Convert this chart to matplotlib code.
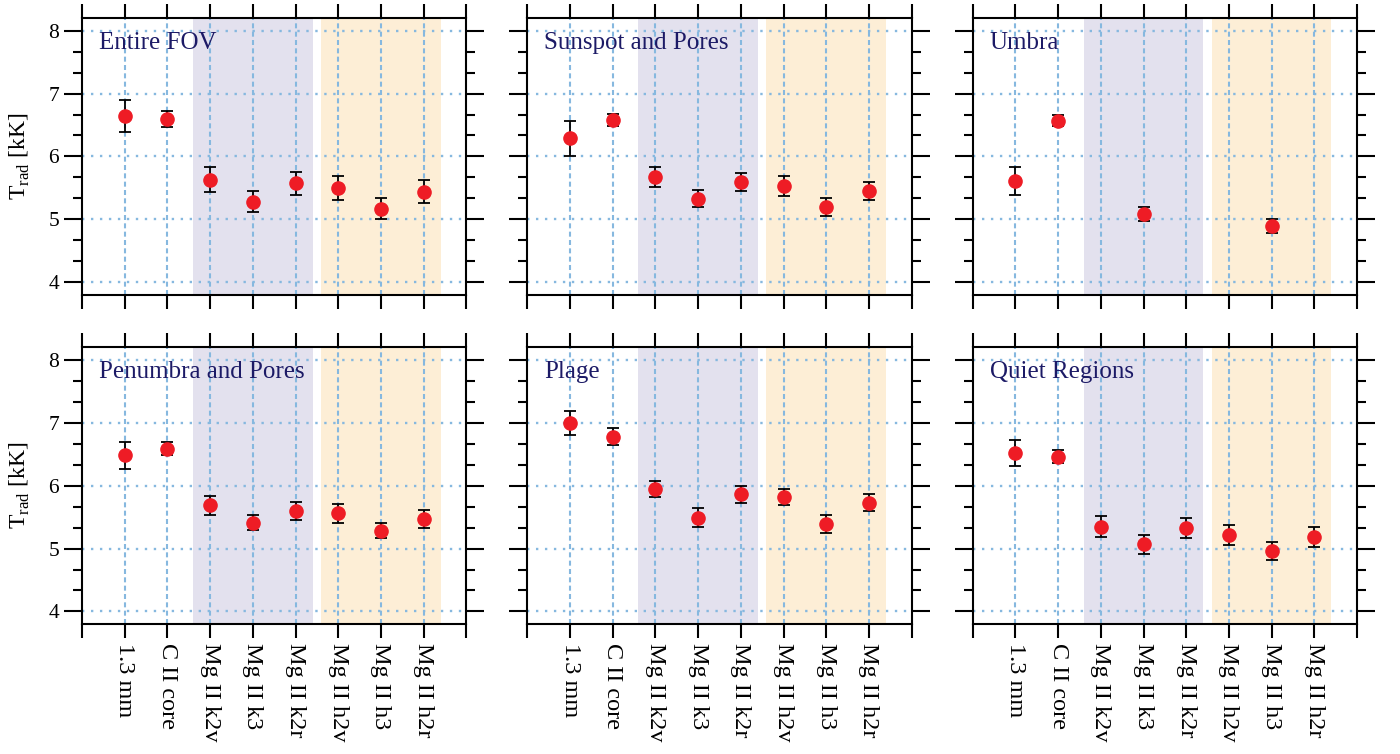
import numpy as np
import matplotlib
matplotlib.use("Agg")
import matplotlib.pyplot as plt
from matplotlib.ticker import MultipleLocator

plt.rcParams['font.family'] = ['Liberation Serif', 'DejaVu Serif']
plt.rcParams['mathtext.fontset'] = 'custom'
plt.rcParams['mathtext.rm'] = 'Liberation Serif'

# diagnostics on the x axis
channels = ["1.3 mm", "C II core", "Mg II k2v", "Mg II k3", "Mg II k2r",
            "Mg II h2v", "Mg II h3", "Mg II h2r"]

# panel names, in the order they are drawn
regions = ["Entire FOV", "Sunspot and Pores", "Umbra",
           "Penumbra and Pores", "Plage", "Quiet Regions"]

# radiation temperature [kK] and error for each region
nan = np.nan
t_fov = [6.64, 6.60, 5.63, 5.28, 5.57, 5.50, 5.17, 5.44]
e_fov = [0.25, 0.13, 0.20, 0.17, 0.19, 0.19, 0.17, 0.18]

t_spot = [6.29, 6.58, 5.67, 5.33, 5.59, 5.53, 5.20, 5.45]
e_spot = [0.28, 0.10, 0.16, 0.13, 0.14, 0.16, 0.14, 0.15]

t_umbra = [5.61, 6.57, nan, 5.09, nan, nan, 4.90, nan]
e_umbra = [0.22, 0.09, nan, 0.11, nan, nan, 0.11, nan]

t_penum = [6.48, 6.59, 5.69, 5.41, 5.60, 5.56, 5.28, 5.47]
e_penum = [0.22, 0.10, 0.15, 0.12, 0.14, 0.15, 0.12, 0.14]

t_plage = [6.99, 6.78, 5.95, 5.49, 5.86, 5.82, 5.39, 5.73]
e_plage = [0.19, 0.14, 0.13, 0.15, 0.14, 0.12, 0.14, 0.14]

t_quiet = [6.52, 6.46, 5.35, 5.07, 5.32, 5.21, 4.96, 5.19]
e_quiet = [0.21, 0.10, 0.17, 0.15, 0.16, 0.16, 0.14, 0.16]

temps = [t_fov, t_spot, t_umbra, t_penum, t_plage, t_quiet]
errs = [e_fov, e_spot, e_umbra, e_penum, e_plage, e_quiet]

fig, axes = plt.subplots(2, 3, figsize=(14, 7.54), dpi=100)
fig.subplots_adjust(left=0.0586, right=0.9693, top=0.976, bottom=0.1724,
                    wspace=0.159, hspace=0.19)

x = np.arange(len(channels))

for k, ax in enumerate(axes.flat):
    ax.axvspan(1.6, 4.4, color='#e3e1ee', lw=0, zorder=0)
    ax.axvspan(4.6, 7.4, color='#fdeed6', lw=0, zorder=0)

    ax.errorbar(x, temps[k], yerr=errs[k], fmt='o', color='#ee1c25',
                markersize=9.5, ecolor='black', elinewidth=1.3,
                capsize=4.5, capthick=1.3, zorder=3)

    ax.set_xlim(-1, 8)
    ax.set_ylim(3.8, 8.2)
    ax.set_xticks(np.arange(-1, 9))
    ax.yaxis.set_major_locator(MultipleLocator(1))
    ax.yaxis.set_minor_locator(MultipleLocator(1 / 3))

    # grid: dashed vertical, dotted horizontal
    for xv in x:
        ax.axvline(xv, color='#86b8df', lw=1.5, ls=(0, (2.4, 1.6)), zorder=0.5)
    for yv in range(4, 9):
        ax.axhline(yv, color='#86b8df', lw=1.7, ls=(0, (1, 2.8)), zorder=0.5)

    for s in ax.spines.values():
        s.set_linewidth(1.5)
    ax.tick_params(axis='both', which='both', direction='out', width=1.5,
                   top=True, right=True)
    ax.tick_params(axis='y', which='major', length=13, labelsize=15.5)
    ax.tick_params(axis='y', which='minor', length=6.5)
    ax.tick_params(axis='x', which='major', length=10, labelsize=17.5)

    row, col = divmod(k, 3)
    if row == 1:
        ax.set_xticklabels([''] + channels + [''], rotation=-90)
    else:
        ax.set_xticklabels([])
    if col == 0:
        ax.set_ylabel(r'T$_{\rm rad}$ [kK]', fontsize=17, labelpad=12)
    else:
        ax.set_yticklabels([])

    ax.text(0.044, 0.888, regions[k], transform=ax.transAxes,
            fontsize=18, color='#1c1a66', va='baseline', ha='left')

fig.savefig("out.png", dpi=100)
